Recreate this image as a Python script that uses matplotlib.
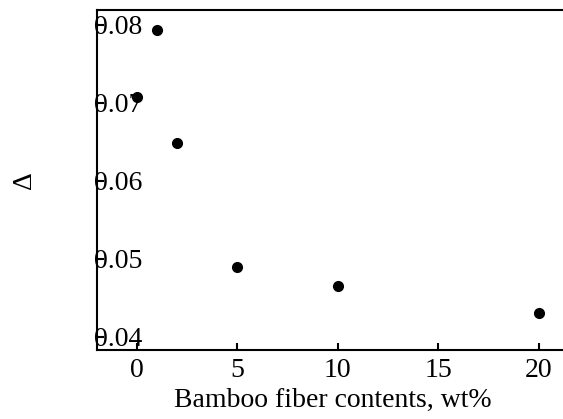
import matplotlib
matplotlib.use("Agg")
import matplotlib.pyplot as plt

plt.rcParams['font.family'] = ['Liberation Serif', 'DejaVu Serif']

# fiber content (wt%) and Delta values
fiber = [0, 1, 2, 5, 10, 20]
delta = [0.0708, 0.0793, 0.0649, 0.0490, 0.0465, 0.0431]

xticks = [0, 5, 10, 15, 20]
yticks = [0.04, 0.05, 0.06, 0.07, 0.08]

fig = plt.figure(figsize=(5.63, 4.19), dpi=100)
ax = fig.add_axes([97 / 563, 1 - 350 / 419, 1 - 97 / 563 + 0.01, 340 / 419])

ax.plot(fiber, delta, 'o', color='black', markersize=7, zorder=1)

ax.set_xlim(-2, 21.5)
ax.set_ylim(0.0383, 0.0819)
ax.set_xticks(xticks)
ax.set_xticklabels([str(t) for t in xticks])
ax.set_yticks(yticks)
ax.set_yticklabels([f"{t:.2f}" for t in yticks])

ax.tick_params(axis='both', direction='in', length=5, width=1.5, labelsize=20)
ax.tick_params(axis='x', pad=6)
ax.tick_params(axis='y', pad=-2)
for lbl in ax.get_yticklabels():
    lbl.set_horizontalalignment('left')
    lbl.set_x(-0.012)

for s in ['left', 'bottom', 'top']:
    ax.spines[s].set_linewidth(1.5)
ax.spines['right'].set_visible(False)

ax.set_xlabel("Bamboo fiber contents, wt%", fontsize=20, labelpad=3)
ax.set_ylabel("Δ", fontsize=20)
ax.yaxis.set_label_coords(-0.127, 0.5)

fig.savefig("out.png", dpi=100)
